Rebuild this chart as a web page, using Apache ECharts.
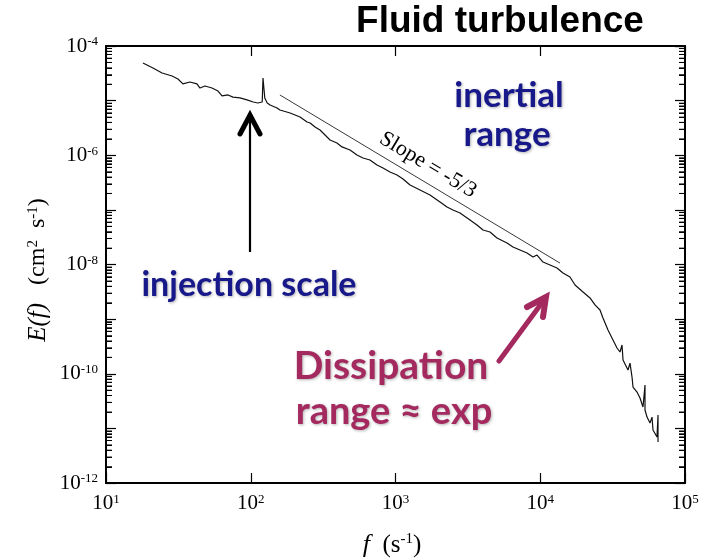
<!DOCTYPE html>
<html><head><meta charset="utf-8">
<script src="https://cdn.jsdelivr.net/npm/echarts@6/dist/echarts.min.js"></script>
<style>html,body{margin:0;padding:0;background:#fff}#c{width:710px;height:560px}</style>
</head><body><div id="c"></div>
<script>
// Measured spectrum E(f) (cm^2 s^-1) versus f (s^-1)
const freq = [18.0, 21.1, 24.4, 28.6, 31.4, 34.0, 38.0, 42.5, 44.6, 48.3, 54.0, 59.4, 63.3, 69.6, 75.4, 84.3, 94.2, 104, 112, 120, 121.5, 125, 130, 136, 152,
  159, 187, 219, 245, 257, 278, 301, 326, 353, 394, 427, 485, 542, 596, 666, 745, 820, 916, 1024, 1127,
  1260, 1477, 1731, 2030, 2269, 2496, 2790, 3271, 3656, 4022, 4496, 5026, 5893, 6481, 7245, 8100, 8912, 9496, 10450, 11680, 13050, 14360, 16050,
  17390, 19740, 22070, 23890, 25870, 27130, 29380, 31810, 33900, 35560, 36720, 37310, 40390, 41690, 43050, 43740, 46610, 48880, 51260, 52930, 52930, 54640, 57310, 59160, 60110, 64070, 65100, 65100];
const energy = [4.89e-5, 3.95e-5, 3.21e-5, 2.82e-5, 2.49e-5, 2.02e-5, 2.19e-5, 2.02e-5, 1.70e-5, 1.85e-5, 1.70e-5, 1.50e-5, 1.22e-5, 1.27e-5, 1.16e-5, 1.12e-5, 1.03e-5, 9.44e-6, 9.06e-6, 9.44e-6, 2.59e-5, 1.12e-5, 9.06e-6, 8.32e-6, 7.33e-6,
  6.74e-6, 5.93e-6, 5.01e-6, 4.06e-6, 3.89e-6, 3.29e-6, 2.90e-6, 2.35e-6, 1.90e-6, 1.68e-6, 1.42e-6, 1.25e-6, 1.01e-6, 8.91e-7, 8.19e-7, 6.63e-7, 5.85e-7, 4.94e-7, 4.35e-7, 3.67e-7,
  2.85e-7, 2.31e-7, 1.87e-7, 1.39e-7, 1.13e-7, 9.95e-8, 8.77e-8, 6.53e-8, 5.29e-8, 4.28e-8, 3.94e-8, 3.06e-8, 2.48e-8, 2.09e-8, 1.84e-8, 1.62e-8, 1.37e-8, 1.49e-8, 1.11e-8, 9.80e-9, 8.63e-9, 6.99e-9, 5.90e-9,
  4.22e-9, 3.14e-9, 2.44e-9, 1.82e-9, 1.47e-9, 1.05e-9, 6.33e-10, 4.15e-10, 2.96e-10, 2.50e-10, 3.36e-10, 1.79e-10, 1.17e-10, 1.57e-10, 8.71e-11, 5.71e-11, 4.63e-11, 3.60e-11, 2.46e-11, 6.22e-11, 2.17e-11, 1.61e-11, 1.25e-11, 1.61e-11, 9.33e-12, 6.95e-12, 1.76e-11, 5.62e-12];
// Reference line, slope = -5/3
const slopeFreq = [159, 13700];
const slopeEnergy = [1.27e-5, 1.06e-8];
// Axis ranges
const xRange = [10, 1e5];
const yRange = [1e-12, 1e-4];
const minorMantissas = [2, 3, 4, 5, 6, 7, 8, 9];

const serif = '"Liberation Serif","DejaVu Serif",serif';
const sans = 'Lato,"Open Sans",sans-serif';
const navy = '#17188a';
const plum = '#a3295f';
const supLabel = (v, every) => {
  const e = Math.round(Math.log10(v));
  if (every === 2 && e % 2 !== 0) return '';
  return '{b|10}{s|' + e + '}';
};
const labelRich = {
  b: {fontSize: 21, fontFamily: serif, color: '#000'},
  s: {fontSize: 13, fontFamily: serif, color: '#000', verticalAlign: 'top', padding: [0, 0, 8, 0]}
};
const shadow = {textShadowColor: 'rgba(0,0,0,0.3)', textShadowBlur: 3, textShadowOffsetX: 1, textShadowOffsetY: 1};

const grid = {left: 106, right: 25, top: 46, bottom: 77};
const W = 710, H = 560;
const chart = echarts.init(document.getElementById('c'), null, {renderer: 'canvas', width: W, height: H});
const axBase = {
  type: 'log', logBase: 10,
  axisLine: {show: true, lineStyle: {color: '#000', width: 2}},
  axisTick: {show: true, inside: true, length: 10, lineStyle: {color: '#000', width: 1.2}},
  splitLine: {show: false}
};

// minor (logarithmic) tick values for the left/right frame
const ly0 = Math.round(Math.log10(yRange[0])), ly1 = Math.round(Math.log10(yRange[1]));
const minorVals = [];
for (let e = ly0; e < ly1; e++) {
  for (let k = 0; k < minorMantissas.length; k++) minorVals.push(minorMantissas[k] * Math.pow(10, e));
}
const tickMark = (side, off) => ({
  type: 'scatter', xAxisIndex: 0, yAxisIndex: 0, silent: true, z: 5, clip: false,
  data: minorVals.map(v => [side, v]),
  symbol: 'rect', symbolSize: [6, 1], symbolOffset: [off, 0], itemStyle: {color: '#000'}
});
// same ticks as plain strokes on the frame (grid pixel geometry)
const gx0 = grid.left, gx1 = W - grid.right, gy0 = grid.top, gy1 = H - grid.bottom;
const tickLines = [];
minorVals.forEach(v => {
  const y = Math.round(gy1 - (Math.log10(v) - ly0) / (ly1 - ly0) * (gy1 - gy0)) + 0.5;
  tickLines.push({type: 'polyline', shape: {points: [[gx0, y], [gx0 + 6, y]]}, style: {stroke: '#000', lineWidth: 1, fill: null}});
  tickLines.push({type: 'polyline', shape: {points: [[gx1 - 6, y], [gx1, y]]}, style: {stroke: '#000', lineWidth: 1, fill: null}});
});

const annotations = [
  {type: 'text', x: 500, y: 22, style: {text: 'Fluid turbulence', align: 'center', verticalAlign: 'middle',
    fontFamily: '"Liberation Sans",Arial,sans-serif', fontWeight: 'bold', fontSize: 37, fill: '#000'}},
  {type: 'text', x: 392, y: 545, style: {
    text: '{i|f}{n|  (s}{s|-1}{n|)}', align: 'center', verticalAlign: 'middle',
    rich: {i: {fontSize: 26, fontFamily: serif, fontStyle: 'italic'}, n: {fontSize: 25, fontFamily: serif},
      s: {fontSize: 15, fontFamily: serif, verticalAlign: 'top', padding: [0, 0, 10, 0]}}}},
  {type: 'text', x: 38, y: 270, rotation: Math.PI / 2, style: {
    text: '{i|E(f)}{n|   (cm}{s|2}{n|  s}{s|-1}{n|)}', align: 'center', verticalAlign: 'middle',
    rich: {i: {fontSize: 25, fontFamily: serif, fontStyle: 'italic'}, n: {fontSize: 24, fontFamily: serif},
      s: {fontSize: 15, fontFamily: serif, verticalAlign: 'top', padding: [0, 0, 10, 0]}}}},
  {type: 'text', x: 428, y: 165, rotation: -0.54, style: {
    text: 'Slope = -5/3', align: 'center', verticalAlign: 'middle', fontSize: 22, fontFamily: serif, fill: '#000'}},
  {type: 'text', x: 509, y: 96, style: Object.assign({text: 'inertial', align: 'center', verticalAlign: 'middle',
    fontSize: 35, fontWeight: 'bold', fontFamily: sans, fill: navy}, shadow)},
  {type: 'text', x: 507, y: 135, style: Object.assign({text: 'range', align: 'center', verticalAlign: 'middle',
    fontSize: 35, fontWeight: 'bold', fontFamily: sans, fill: navy}, shadow)},
  {type: 'text', x: 249, y: 285, style: Object.assign({text: 'injection scale', align: 'center', verticalAlign: 'middle',
    fontSize: 34, fontWeight: 'bold', fontFamily: sans, fill: navy}, shadow)},
  {type: 'text', x: 391, y: 366, style: Object.assign({text: 'Dissipation', align: 'center', verticalAlign: 'middle',
    fontSize: 39, fontWeight: 'bold', fontFamily: sans, fill: plum}, shadow)},
  {type: 'text', x: 394, y: 412, style: Object.assign({text: 'range \u2248 exp', align: 'center', verticalAlign: 'middle',
    fontSize: 38, fontWeight: 'bold', fontFamily: sans, fill: plum}, shadow)},
  // black arrow
  {type: 'line', shape: {x1: 250, y1: 252, x2: 250, y2: 116}, style: {stroke: '#000', lineWidth: 2.2}},
  {type: 'polyline', shape: {points: [[240, 134], [250, 115], [260, 134]]}, style: {stroke: '#000', lineWidth: 5, fill: null, lineCap: 'round', lineJoin: 'miter'}},
  // plum arrow
  {type: 'line', shape: {x1: 499, y1: 361, x2: 544, y2: 300}, style: {stroke: plum, lineWidth: 5, lineCap: 'round'}},
  {type: 'polyline', shape: {points: [[527, 307], [546, 297], [543, 317]]}, style: {stroke: plum, lineWidth: 6, fill: null, lineCap: 'round', lineJoin: 'miter'}}
];

chart.setOption({
  animation: false,
  backgroundColor: '#fff',
  grid: grid,
  xAxis: [
    Object.assign({}, axBase, {min: xRange[0], max: xRange[1], position: 'bottom', splitNumber: 4,
      axisLabel: {margin: 10, formatter: v => supLabel(v, 1), rich: labelRich}}),
    Object.assign({}, axBase, {min: xRange[0], max: xRange[1], position: 'top', splitNumber: 4, axisLabel: {show: false}})
  ],
  yAxis: [
    Object.assign({}, axBase, {min: yRange[0], max: yRange[1], position: 'left', splitNumber: 8, interval: 1,
      axisLabel: {margin: 8, formatter: v => supLabel(v, 2), rich: labelRich}}),
    Object.assign({}, axBase, {min: yRange[0], max: yRange[1], position: 'right', splitNumber: 8, interval: 1, axisLabel: {show: false}})
  ],
  series: [
    {
      type: 'line', xAxisIndex: 0, yAxisIndex: 0, showSymbol: false, silent: true,
      data: freq.map((f, i) => [f, energy[i]]),
      lineStyle: {color: '#111', width: 1.2}
    },
    {
      type: 'line', xAxisIndex: 0, yAxisIndex: 0, showSymbol: false, silent: true,
      data: slopeFreq.map((f, i) => [f, slopeEnergy[i]]),
      lineStyle: {color: '#222', width: 0.9}
    },
    tickMark(xRange[0], 3),
    tickMark(xRange[1], -3)
  ],
  graphic: annotations.concat(tickLines)
});
</script></body></html>
